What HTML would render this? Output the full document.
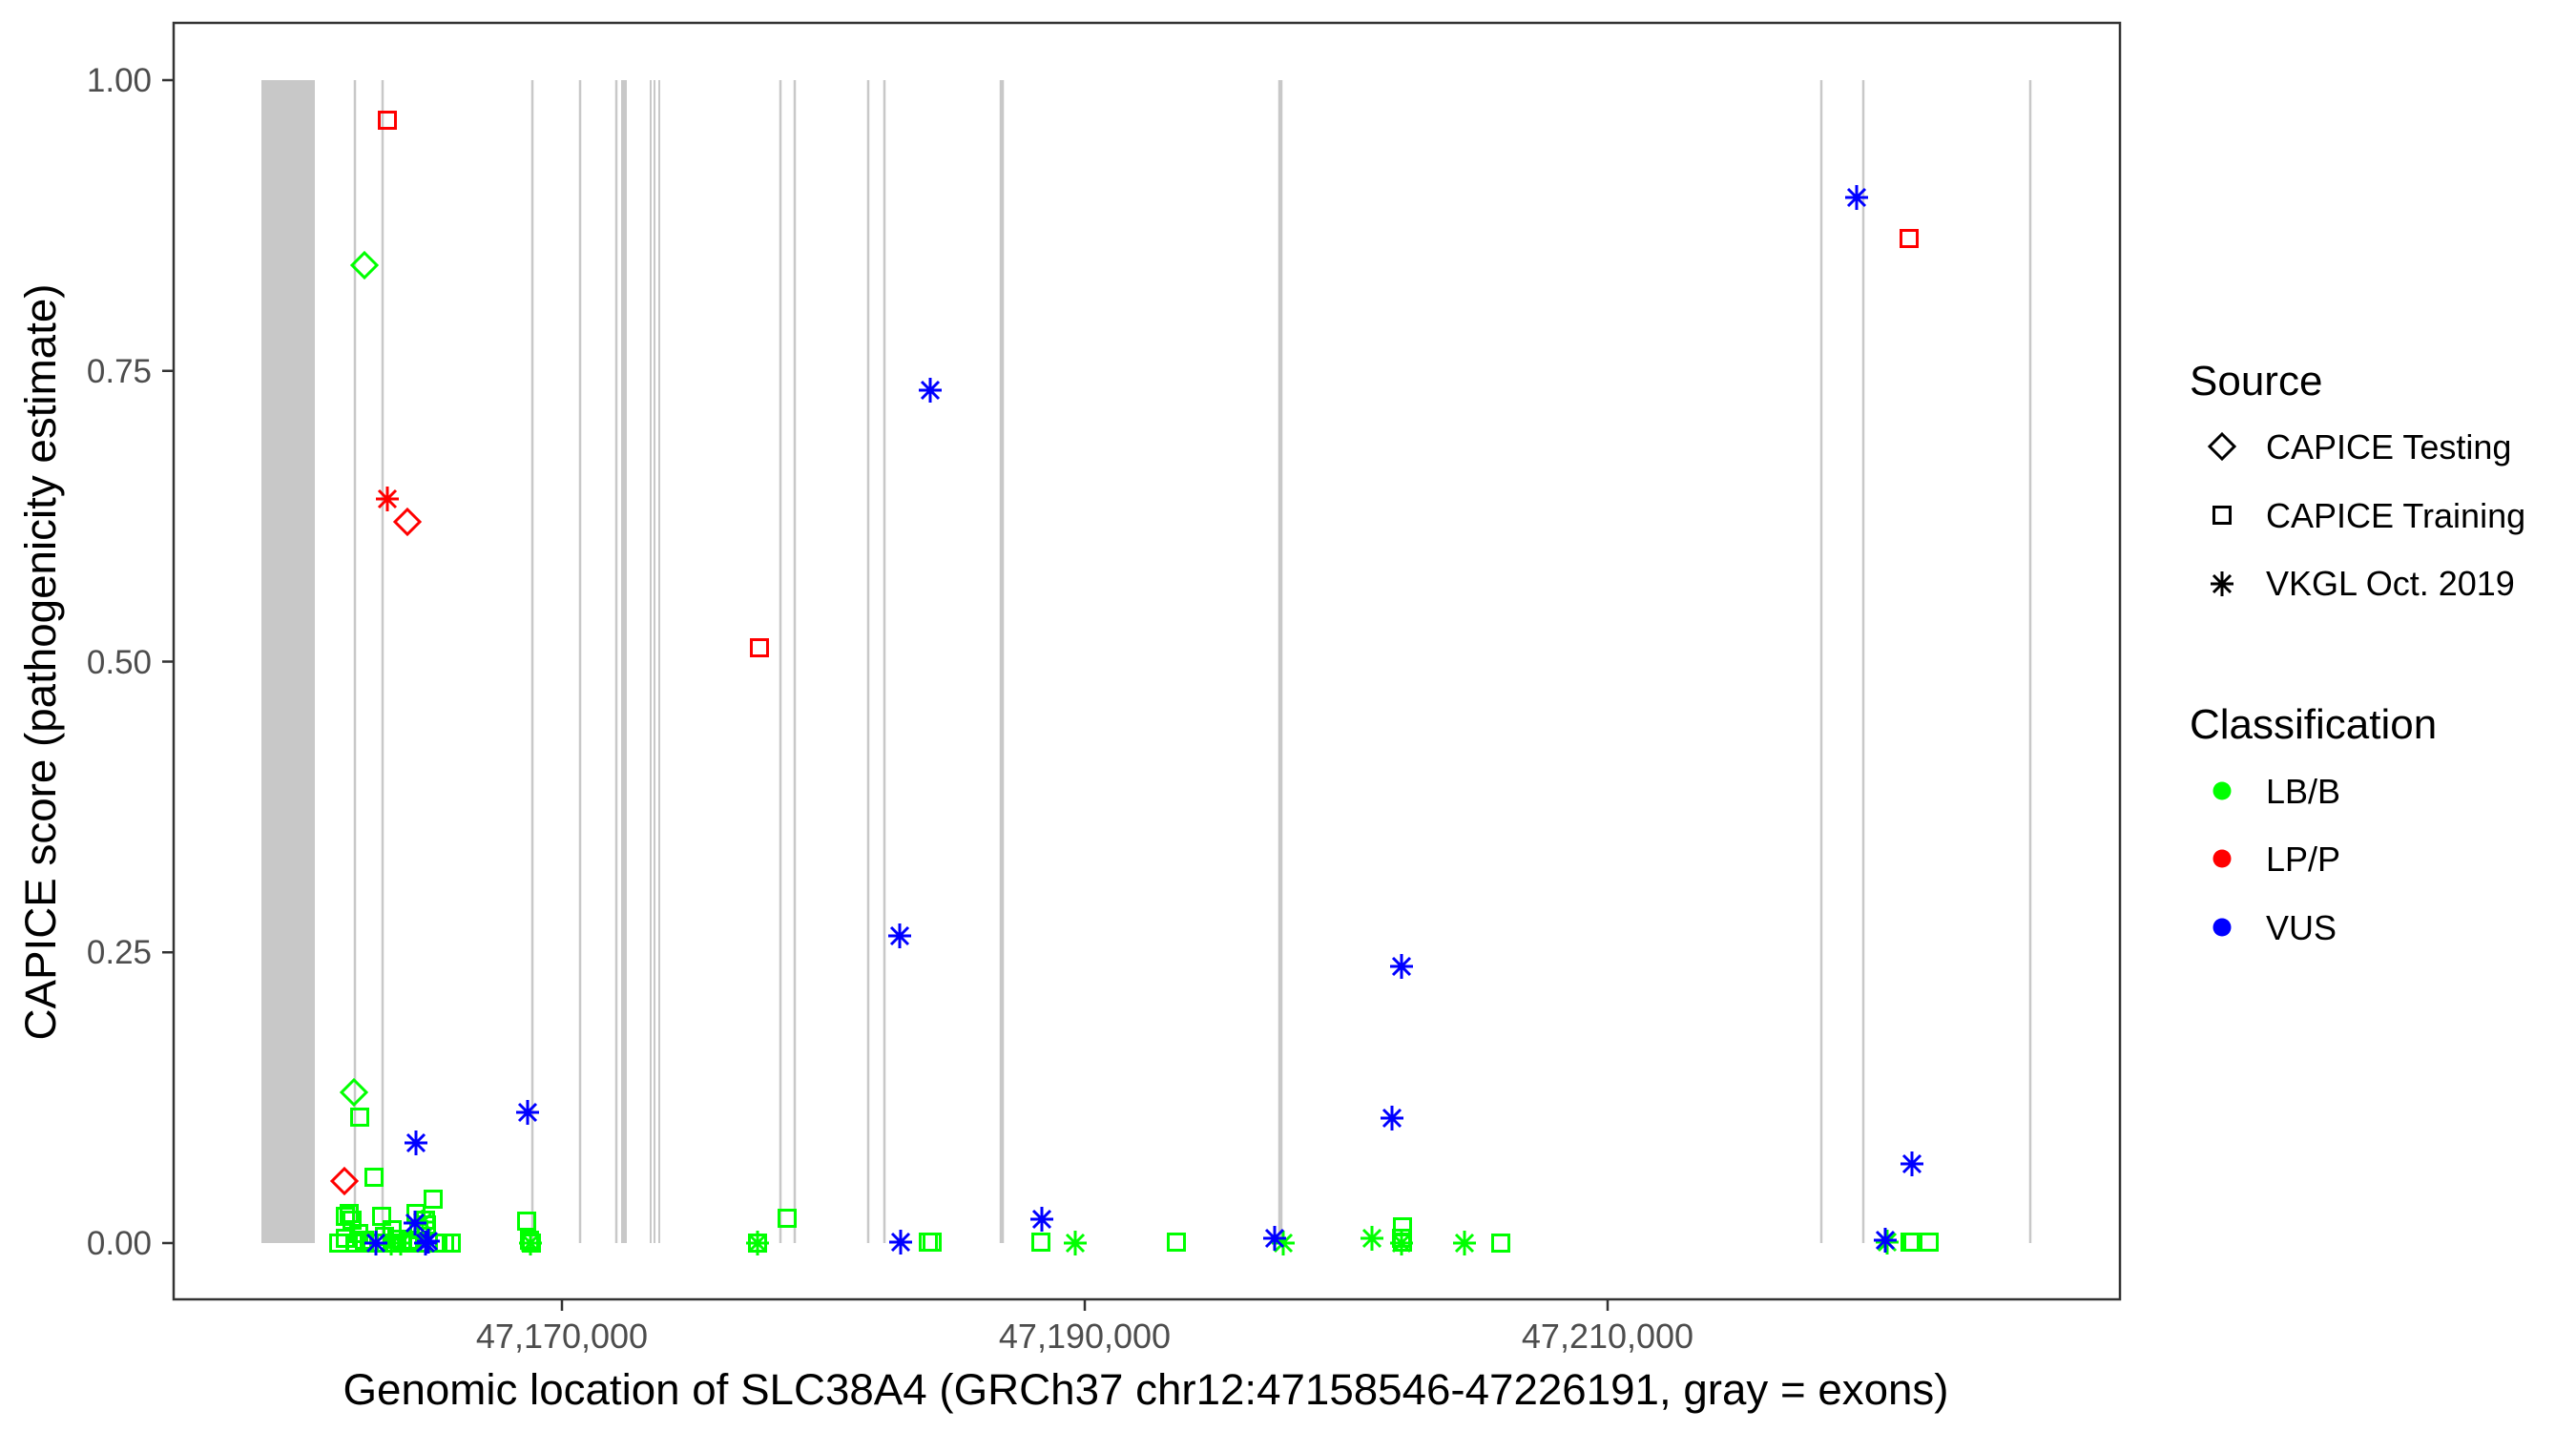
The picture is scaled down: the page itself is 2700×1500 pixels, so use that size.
<!DOCTYPE html>
<html><head><meta charset="utf-8"><style>
html,body{margin:0;padding:0;background:#fff;}
svg{display:block;}
text{font-family:"Liberation Sans",Arial,sans-serif;}
</style></head><body>
<svg width="2700" height="1500" viewBox="0 0 2700 1500" xmlns="http://www.w3.org/2000/svg">
<defs>
<g id="sq"><rect x="-8.5" y="-8.5" width="17" height="17" fill="none" stroke="currentColor" stroke-width="3"/></g>
<g id="di"><path d="M0,-13 L13,0 L0,13 L-13,0 Z" fill="none" stroke="currentColor" stroke-width="3"/></g>
<g id="st"><path d="M0,-13 V13 M-12,0 H12 M-9,-9 L9,9 M-9,9 L9,-9" fill="none" stroke="currentColor" stroke-width="3"/></g>
</defs>
<rect width="2700" height="1500" fill="#fff"/>
<!-- exons -->
<g fill="#c8c8c8">
<rect x="274" y="84" width="56" height="1219"/>
</g>
<g stroke="#c8c8c8" stroke-width="2.5">
<line x1="372" y1="84" x2="372" y2="1303"/>
<line x1="401" y1="84" x2="401" y2="1303"/>
<line x1="558" y1="84" x2="558" y2="1303"/>
<line x1="608" y1="84" x2="608" y2="1303"/>
<line x1="646" y1="84" x2="646" y2="1303"/>
<line x1="654" y1="84" x2="654" y2="1303" stroke-width="6"/>
<line x1="682" y1="84" x2="682" y2="1303" stroke-width="2"/>
<line x1="686" y1="84" x2="686" y2="1303" stroke-width="2"/>
<line x1="691" y1="84" x2="691" y2="1303" stroke-width="2"/>
<line x1="818" y1="84" x2="818" y2="1303"/>
<line x1="833" y1="84" x2="833" y2="1303"/>
<line x1="910" y1="84" x2="910" y2="1303"/>
<line x1="927" y1="84" x2="927" y2="1303"/>
<line x1="1050" y1="84" x2="1050" y2="1303" stroke-width="4.5"/>
<line x1="1342" y1="84" x2="1342" y2="1303" stroke-width="4.5"/>
<line x1="1909" y1="84" x2="1909" y2="1303"/>
<line x1="1953" y1="84" x2="1953" y2="1303"/>
<line x1="2128" y1="84" x2="2128" y2="1303"/>
</g>
<!-- green squares -->
<g color="#00ff00">
<use href="#sq" x="355" y="1303"/><use href="#sq" x="362" y="1275"/><use href="#sq" x="366" y="1272"/>
<use href="#sq" x="369" y="1279"/><use href="#sq" x="373" y="1303"/><use href="#sq" x="376" y="1293"/>
<use href="#sq" x="362" y="1298"/><use href="#sq" x="382" y="1300"/><use href="#sq" x="387" y="1303"/>
<use href="#sq" x="377" y="1171"/><use href="#sq" x="392" y="1234"/><use href="#sq" x="400" y="1275"/>
<use href="#sq" x="397" y="1303"/><use href="#sq" x="403" y="1296"/><use href="#sq" x="411" y="1289"/>
<use href="#sq" x="411" y="1303"/><use href="#sq" x="416" y="1299"/><use href="#sq" x="422" y="1303"/>
<use href="#sq" x="428" y="1303"/><use href="#sq" x="436" y="1272"/><use href="#sq" x="439" y="1289"/>
<use href="#sq" x="438" y="1303"/><use href="#sq" x="446" y="1279"/><use href="#sq" x="447" y="1284"/>
<use href="#sq" x="449" y="1303"/><use href="#sq" x="454" y="1257"/><use href="#sq" x="459" y="1303"/>
<use href="#sq" x="466" y="1303"/><use href="#sq" x="473" y="1303"/><use href="#sq" x="430" y="1300"/>
<use href="#sq" x="552" y="1280"/><use href="#sq" x="555" y="1300"/><use href="#sq" x="557" y="1303"/>
<use href="#sq" x="794" y="1303"/><use href="#sq" x="825" y="1277"/>
<use href="#sq" x="973" y="1302"/><use href="#sq" x="977" y="1302"/>
<use href="#sq" x="1091" y="1302"/><use href="#sq" x="1233" y="1302"/>
<use href="#sq" x="1470" y="1286"/><use href="#sq" x="1469" y="1298"/><use href="#sq" x="1470" y="1302"/>
<use href="#sq" x="1573" y="1303"/>
<use href="#sq" x="2002" y="1302"/><use href="#sq" x="2005" y="1302"/><use href="#sq" x="2022" y="1302"/>
<use href="#di" x="382" y="278"/><use href="#di" x="371" y="1145"/>
<use href="#st" x="410" y="1303"/><use href="#st" x="420" y="1303"/><use href="#st" x="443" y="1281"/>
<use href="#st" x="556" y="1303"/><use href="#st" x="794" y="1303"/><use href="#st" x="1127" y="1303"/>
<use href="#st" x="1345" y="1303"/><use href="#st" x="1438" y="1298"/><use href="#st" x="1469" y="1303"/>
<use href="#st" x="1535" y="1303"/><use href="#st" x="1978" y="1302"/>
</g>
<!-- red -->
<g color="#ff0000">
<use href="#sq" x="406" y="126"/><use href="#sq" x="796" y="679"/><use href="#sq" x="2001" y="250"/>
<use href="#di" x="427" y="547"/><use href="#di" x="361" y="1238"/>
<use href="#st" x="406" y="523"/>
</g>
<!-- blue -->
<g color="#0000ff">
<use href="#st" x="975" y="409"/><use href="#st" x="1946" y="207"/><use href="#st" x="943" y="981"/>
<use href="#st" x="1469" y="1013"/><use href="#st" x="1459" y="1172"/><use href="#st" x="553" y="1166"/>
<use href="#st" x="436" y="1198"/><use href="#st" x="435" y="1282"/><use href="#st" x="394" y="1303"/>
<use href="#st" x="446" y="1303"/><use href="#st" x="449" y="1301"/><use href="#st" x="1092" y="1278"/>
<use href="#st" x="1336" y="1298"/><use href="#st" x="944" y="1302"/><use href="#st" x="1976" y="1300"/>
<use href="#st" x="2004" y="1220"/>
</g>
<!-- panel -->
<rect x="182" y="24" width="2040" height="1338" fill="none" stroke="#333" stroke-width="2.5"/>
<!-- y axis -->
<g stroke="#333" stroke-width="2.5">
<line x1="170" y1="84" x2="182" y2="84"/><line x1="170" y1="388.75" x2="182" y2="388.75"/>
<line x1="170" y1="693.5" x2="182" y2="693.5"/><line x1="170" y1="998.25" x2="182" y2="998.25"/>
<line x1="170" y1="1303" x2="182" y2="1303"/>
<line x1="589" y1="1362" x2="589" y2="1374"/><line x1="1137" y1="1362" x2="1137" y2="1374"/><line x1="1685" y1="1362" x2="1685" y2="1374"/>
</g>
<g fill="#4d4d4d" font-size="35" text-anchor="end">
<text x="159" y="96">1.00</text><text x="159" y="401">0.75</text><text x="159" y="706">0.50</text>
<text x="159" y="1010">0.25</text><text x="159" y="1315">0.00</text>
</g>
<g fill="#4d4d4d" font-size="36" text-anchor="middle">
<text x="589" y="1413">47,170,000</text><text x="1137" y="1413">47,190,000</text><text x="1685" y="1413">47,210,000</text>
</g>
<text x="1201" y="1472" font-size="45" text-anchor="middle" textLength="1683" lengthAdjust="spacingAndGlyphs">Genomic location of SLC38A4 (GRCh37 chr12:47158546-47226191, gray = exons)</text>
<text transform="translate(58,694) rotate(-90)" font-size="45" text-anchor="middle" textLength="793" lengthAdjust="spacingAndGlyphs">CAPICE score (pathogenicity estimate)</text>
<!-- legend -->
<text x="2295" y="414" font-size="44">Source</text>
<g font-size="36">
<text x="2375" y="481">CAPICE Testing</text>
<text x="2375" y="553">CAPICE Training</text>
<text x="2375" y="624">VKGL Oct. 2019</text>
<text x="2375" y="842">LB/B</text>
<text x="2375" y="913">LP/P</text>
<text x="2375" y="985">VUS</text>
</g>
<text x="2295" y="774" font-size="44">Classification</text>
<g color="#000">
<use href="#di" x="2329" y="468"/>
<use href="#sq" x="2329" y="540"/>
<use href="#st" x="2329" y="612"/>
</g>
<circle cx="2329" cy="829" r="9.5" fill="#00ff00"/>
<circle cx="2329" cy="900" r="9.5" fill="#ff0000"/>
<circle cx="2329" cy="972" r="9.5" fill="#0000ff"/>
</svg>
</body></html>
